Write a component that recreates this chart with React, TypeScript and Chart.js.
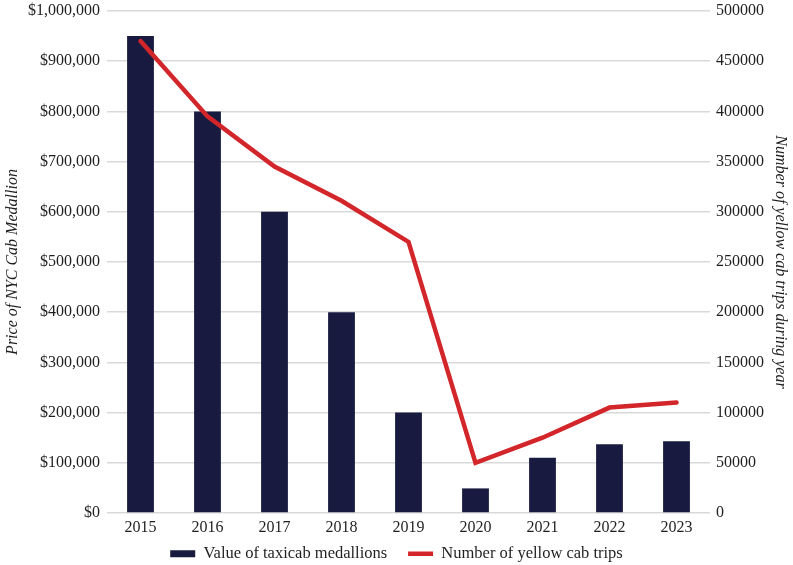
import React, { useRef, useEffect } from 'react';
import Chart from 'chart.js/auto';

const years = ['2015', '2016', '2017', '2018', '2019', '2020', '2021', '2022', '2023'];
const medallionValues = [950000, 800000, 600000, 400000, 200000, 49000, 110000, 137000, 143000];
const cabTrips = [470000, 395000, 345000, 311000, 270000, 50000, 75000, 105000, 110000];

const FONT = '"Liberation Serif", "Times New Roman", serif';
const TEXT = '#1f1f1f';
const GRID = '#d9d9d9';

// drop the half-label padding Chart.js adds above/below vertical axes
const trimPadding = (scale: any, width: number) => {
    scale.width = width;
    scale.paddingTop = 0;
    scale.paddingBottom = 0;
};

export default function App() {
    const chartRef = useRef<HTMLCanvasElement | null>(null);
    const chartInstanceRef = useRef<Chart | null>(null);

    useEffect(() => {
        if (!chartRef.current) return;
        const ctx = chartRef.current.getContext('2d');
        if (!ctx) return;

        chartInstanceRef.current = new Chart(ctx, {
            type: 'bar',
            data: {
                labels: years,
                datasets: [
                    {
                        type: 'bar',
                        label: 'Value of taxicab medallions   ',
                        data: medallionValues,
                        backgroundColor: '#181a3f',
                        borderWidth: 0,
                        barPercentage: 0.4,
                        categoryPercentage: 1,
                        yAxisID: 'y',
                        order: 1,
                        pointStyle: 'rect',
                    },
                    {
                        type: 'line',
                        label: 'Number of yellow cab trips',
                        data: cabTrips,
                        borderColor: '#d3262b',
                        backgroundColor: '#d3262b',
                        borderWidth: 4.5,
                        borderCapStyle: 'round',
                        pointRadius: 0,
                        pointStyle: 'line',
                        tension: 0,
                        yAxisID: 'y1',
                        order: 0,
                    },
                ],
            },
            options: {
                responsive: true,
                maintainAspectRatio: false,
                animation: false,
                layout: { padding: { top: 11, bottom: -7 } },
                plugins: {
                    tooltip: { enabled: false },
                    legend: {
                        position: 'bottom',
                        labels: {
                            usePointStyle: true,
                            pointStyleWidth: 25,
                            boxHeight: 7,
                            padding: 8.5,
                            color: TEXT,
                            font: { family: FONT, size: 16.5 },
                            sort: (a, b) => (a.datasetIndex ?? 0) - (b.datasetIndex ?? 0),
                        },
                    },
                },
                scales: {
                    x: {
                        afterFit: (scale) => { scale.height = 24; },
                        grid: { display: false, drawTicks: false },
                        border: { display: false },
                        ticks: { color: TEXT, font: { family: FONT, size: 16 }, padding: 5 },
                    },
                    y: {
                        position: 'left',
                        min: 0,
                        max: 1000000,
                        afterFit: (scale) => trimPadding(scale, 107),
                        grid: { color: GRID, lineWidth: 1.5, drawTicks: false },
                        border: { display: false },
                        ticks: {
                            stepSize: 100000,
                            padding: 7,
                            color: TEXT,
                            font: { family: FONT, size: 16 },
                            callback: (v) => '$' + Number(v).toLocaleString('en-US'),
                        },
                        title: {
                            display: true,
                            text: 'Price of NYC Cab Medallion',
                            color: TEXT,
                            padding: { top: 3, bottom: 0 },
                            font: { family: FONT, size: 16, style: 'italic' },
                        },
                    },
                    y1: {
                        position: 'right',
                        min: 0,
                        max: 500000,
                        afterFit: (scale) => trimPadding(scale, 83),
                        grid: { display: false, drawTicks: false },
                        border: { display: false },
                        ticks: {
                            stepSize: 50000,
                            padding: 6,
                            color: TEXT,
                            font: { family: FONT, size: 16 },
                            callback: (v) => String(v),
                        },
                        title: {
                            display: true,
                            text: 'Number of yellow cab trips during year',
                            color: TEXT,
                            padding: { top: 3, bottom: 0 },
                            font: { family: FONT, size: 16, style: 'italic' },
                        },
                    },
                },
            },
        });

        return () => {
            if (chartInstanceRef.current) {
                chartInstanceRef.current.destroy();
                chartInstanceRef.current = null;
            }
        };
    }, []);

    return (
        <div style={{ position: 'fixed', left: 0, top: 0, width: 793, height: 565, background: '#fff' }}>
            <canvas ref={chartRef} />
        </div>
    );
}
